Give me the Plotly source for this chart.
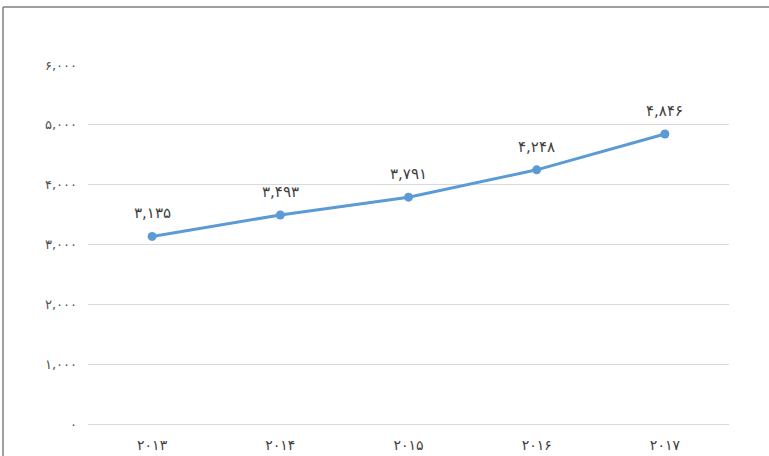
import plotly.graph_objects as go

years = ["۲۰۱۳", "۲۰۱۴", "۲۰۱۵", "۲۰۱۶", "۲۰۱۷"]
values = [3135, 3493, 3791, 4248, 4846]
value_labels = ["۳,۱۳۵", "۳,۴۹۳", "۳,۷۹۱", "۴,۲۴۸", "۴,۸۴۶"]
y_ticks = [0, 1000, 2000, 3000, 4000, 5000, 6000]
y_tick_labels = ["۰", "۱,۰۰۰", "۲,۰۰۰", "۳,۰۰۰", "۴,۰۰۰", "۵,۰۰۰", "۶,۰۰۰"]

# the photographed page is compressed vertically (~465 px shown in 456),
# so lay the figure out on a slightly taller canvas
W, H = 769, 465
K = H / 456.0
ML, MR = 88, 40
MT = round(64 * K)
MB = H - round(422 * K)
pw, ph = W - ML - MR, H - MT - MB

def px_x(p):
    return (p - ML) / pw

def px_y(p):
    return (H - MB - p * K) / ph

fig = go.Figure()
fig.add_trace(go.Scatter(
    x=years, y=values, mode="lines+markers",
    line=dict(color="#5B9BD5", width=3),
    marker=dict(color="#5B9BD5", size=9),
    cliponaxis=False, hoverinfo="skip",
))

for xv, yv, lab in zip(years, values, value_labels):
    fig.add_annotation(x=xv, y=yv, text=lab, showarrow=False, yshift=23,
                       font=dict(family="DejaVu Sans", size=15, color="#404040"))

fig.update_layout(
    width=W, height=H,
    margin=dict(l=ML, r=MR, t=MT, b=MB),
    paper_bgcolor="white", plot_bgcolor="white",
    showlegend=False,
    font=dict(family="DejaVu Sans"),
    xaxis=dict(
        type="category", range=[-0.5, len(years) - 0.5],
        showgrid=False, showline=True,
        linecolor="#D9D9D9", linewidth=1, ticks="",
        tickfont=dict(family="DejaVu Sans", size=14, color="#404040"),
        ticklabelstandoff=8,
    ),
    yaxis=dict(
        range=[0, 6000], tickvals=y_ticks, ticktext=y_tick_labels,
        showgrid=True, gridcolor="#D9D9D9", gridwidth=1,
        zeroline=False, showline=False, ticks="",
        tickfont=dict(family="DejaVu Sans", size=13, color="#505050"),
        ticklabelstandoff=10,
    ),
    shapes=[
        dict(type="line", xref="paper", yref="paper",
             x0=px_x(3), x1=px_x(W + 5), y0=px_y(6), y1=px_y(6),
             line=dict(color="#7F7F7F", width=1.5)),
        dict(type="line", xref="paper", yref="paper",
             x0=px_x(3), x1=px_x(3), y0=px_y(6), y1=px_y(460),
             line=dict(color="#7F7F7F", width=1.5)),
    ],
)

post = (
    "var b=document.body,h=document.documentElement;"
    "b.style.margin='0';b.style.padding='0';b.style.overflow='hidden';"
    "b.style.lineHeight='0';b.style.fontSize='0';"
    "h.style.overflow='hidden';"
)

fig.write_html(
    "out.html",
    config={"displayModeBar": False, "staticPlot": True},
    post_script=post,
)
